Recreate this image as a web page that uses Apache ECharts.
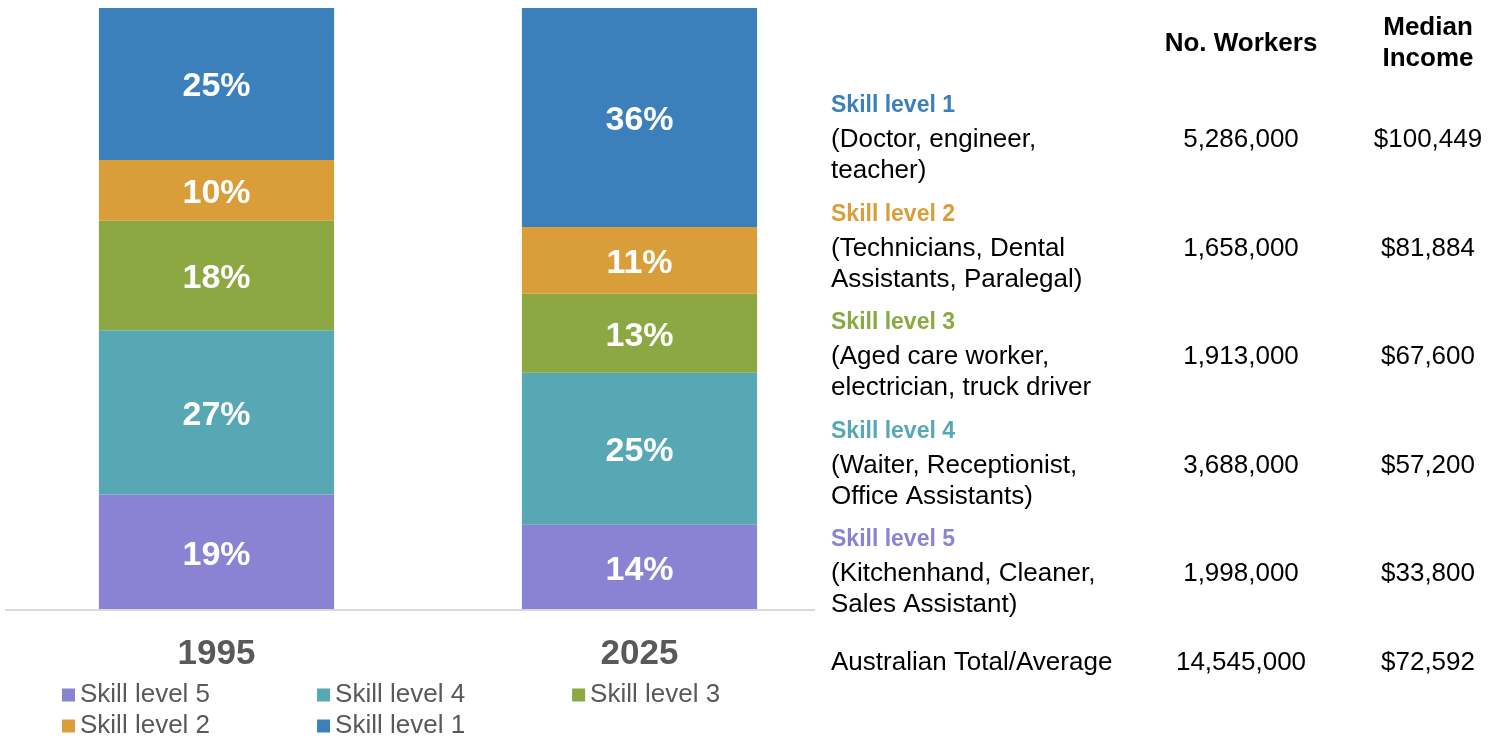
<!DOCTYPE html>
<html>
<head>
<meta charset="utf-8">
<script src="https://cdn.jsdelivr.net/npm/echarts@6/dist/echarts.min.js"></script>
<style>
  html, body { margin: 0; padding: 0; background: #fff; }
  #chart { width: 1500px; height: 739px; }
</style>
</head>
<body>
<div id="chart"></div>
<script>
// 柱状图数据 (百分比)
const years = ['1995', '2025'];
const levelNames = ['Skill level 5', 'Skill level 4', 'Skill level 3', 'Skill level 2', 'Skill level 1'];
const share5 = [19, 14];
const share4 = [27, 25];
const share3 = [18, 13];
const share2 = [10, 11];
const share1 = [25, 36];
const levelColors = ['#8A83D4', '#57A7B4', '#8BA843', '#D99E39', '#3B80BA'];

// 右侧表格数据
const tableNames = ['Skill level 1', 'Skill level 2', 'Skill level 3', 'Skill level 4', 'Skill level 5'];
const tableJobs = [
  ['(Doctor, engineer,', 'teacher)'],
  ['(Technicians, Dental', 'Assistants, Paralegal)'],
  ['(Aged care worker,', 'electrician, truck driver'],
  ['(Waiter, Receptionist,', 'Office Assistants)'],
  ['(Kitchenhand, Cleaner,', 'Sales Assistant)']
];
const tableWorkers = ['5,286,000', '1,658,000', '1,913,000', '3,688,000', '1,998,000'];
const tableIncome = ['$100,449', '$81,884', '$67,600', '$57,200', '$33,800'];
const totalRow = ['Australian Total/Average', '14,545,000', '$72,592'];
const tableNameColors = ['#3B80BA', '#D99E39', '#8BA843', '#57A7B4', '#8A83D4'];

const FONT = '"Liberation Sans", Arial, sans-serif';
const chart = echarts.init(document.getElementById('chart'));

function txt(text, x, y, opts) {
  return {
    type: 'text',
    x: x,
    y: y,
    style: Object.assign({
      text: text,
      fill: '#000',
      fontFamily: FONT,
      fontSize: 26,
      textAlign: 'left',
      textVerticalAlign: 'middle'
    }, opts || {})
  };
}

// 表格
const colName = 831, colWorkers = 1241, colIncome = 1428;
const tableGraphics = [
  txt('No. Workers', colWorkers, 44, { fontWeight: 'bold', textAlign: 'center' }),
  txt('Median', colIncome, 28, { fontWeight: 'bold', textAlign: 'center' }),
  txt('Income', colIncome, 59, { fontWeight: 'bold', textAlign: 'center' })
];
tableNames.forEach(function (name, i) {
  const y0 = 106 + i * 108.5;
  tableGraphics.push(txt(name, colName, y0, { fontWeight: 'bold', fontSize: 23, fill: tableNameColors[i] }));
  tableGraphics.push(txt(tableJobs[i][0], colName, y0 + 34));
  tableGraphics.push(txt(tableJobs[i][1], colName, y0 + 65));
  tableGraphics.push(txt(tableWorkers[i], colWorkers, y0 + 34, { textAlign: 'center' }));
  tableGraphics.push(txt(tableIncome[i], colIncome, y0 + 34, { textAlign: 'center' }));
});
tableGraphics.push(txt(totalRow[0], colName, 663));
tableGraphics.push(txt(totalRow[1], colWorkers, 663, { textAlign: 'center' }));
tableGraphics.push(txt(totalRow[2], colIncome, 663, { textAlign: 'center' }));

// 基线
tableGraphics.push({
  type: 'line',
  shape: { x1: 5, y1: 610, x2: 815, y2: 610 },
  style: { stroke: '#D9D9D9', lineWidth: 2 },
  z: 10
});

const shares = [share5, share4, share3, share2, share1];
const series = levelNames.map(function (name, i) {
  return {
    name: name,
    type: 'bar',
    stack: 'total',
    barWidth: '55.6%',
    data: shares[i],
    itemStyle: { color: levelColors[i] },
    label: {
      show: true,
      position: 'inside',
      offset: [0, 3],
      formatter: '{c}%',
      color: '#fff',
      fontFamily: FONT,
      fontWeight: 'bold',
      fontSize: 34
    }
  };
});

const legendBase = {
  left: 62,
  padding: 0,
  icon: 'rect',
  itemWidth: 13,
  itemHeight: 13,
  itemGap: 107,
  textStyle: { color: '#595959', fontFamily: FONT, fontSize: 26 }
};

const option = {
  animation: false,
  grid: { left: 5, right: 649, top: 8, bottom: 129 },
  xAxis: {
    type: 'category',
    data: years,
    axisLine: { show: false },
    axisTick: { show: false },
    axisLabel: {
      margin: 27,
      color: '#595959',
      fontFamily: FONT,
      fontWeight: 'bold',
      fontSize: 35
    }
  },
  yAxis: { type: 'value', min: 0, max: 99, show: false },
  legend: [
    Object.assign({ top: 682, data: levelNames.slice(0, 3) }, legendBase),
    Object.assign({ top: 713, data: levelNames.slice(3) }, legendBase)
  ],
  series: series,
  graphic: tableGraphics
};

chart.setOption(option);
</script>
</body>
</html>
